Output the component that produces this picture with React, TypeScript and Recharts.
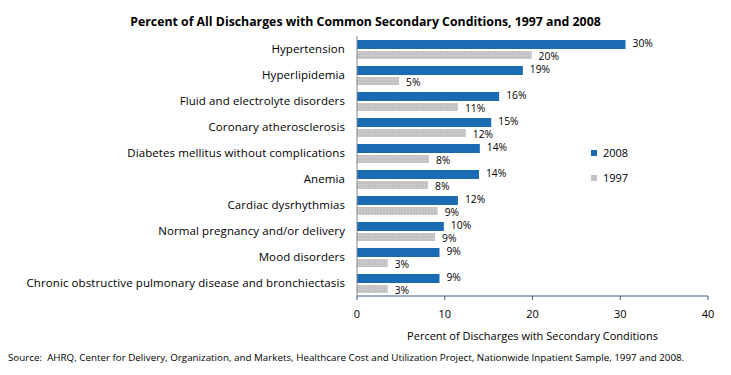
import React from "react";
import {
  BarChart,
  Bar,
  XAxis,
  YAxis,
  LabelList,
  Legend,
} from "recharts";

const conditions = [
  "Hypertension",
  "Hyperlipidemia",
  "Fluid and electrolyte disorders",
  "Coronary atherosclerosis",
  "Diabetes mellitus without complications",
  "Anemia",
  "Cardiac dysrhythmias",
  "Normal pregnancy and/or delivery",
  "Mood disorders",
  "Chronic obstructive pulmonary disease and bronchiectasis",
];
const values2008 = [30.6, 18.9, 16.2, 15.3, 14.0, 13.9, 11.5, 9.9, 9.4, 9.4];
const values1997 = [19.9, 4.8, 11.5, 12.4, 8.2, 8.1, 9.2, 8.9, 3.5, 3.5];
const labels2008 = ["30%", "19%", "16%", "15%", "14%", "14%", "12%", "10%", "9%", "9%"];
const labels1997 = ["20%", "5%", "11%", "12%", "8%", "8%", "9%", "9%", "3%", "3%"];
const xTicks = [0, 10, 20, 30, 40];

const BLUE = "#1B6AB4";
const GREY = "#C3C3C3";
const FONT = "'Open Sans', 'Noto Sans', sans-serif";

const data = conditions.map((name, i) => ({
  name,
  y2008: values2008[i],
  y1997: values1997[i],
  l2008: labels2008[i],
  l1997: labels1997[i],
}));

// plain single-line tick, recharts would wrap the long one
const CategoryTick = (props: any) => {
  const { x, y, payload } = props;
  return (
    <text x={x} y={y} dy={4} textAnchor="end" fontFamily={FONT} fontSize={11.5} fill="#000" letterSpacing={0.1}>
      {payload.value}
    </text>
  );
};

// value label at the bar end, nudged up/down a bit like the original
const makeValueLabel = (shift: number) => (props: any) => {
  const { x, y, width, height, value } = props;
  return (
    <text
      x={x + width + 7}
      y={y + height / 2 + shift}
      dy={3.5}
      fontFamily={FONT}
      fontSize={10.3}
      fill="#000"
    >
      {value}
    </text>
  );
};

const LegendBox = () => (
  <div style={{ fontFamily: FONT, fontSize: 11, color: "#000" }}>
    {[
      { label: "2008", fill: BLUE },
      { label: "1997", fill: GREY },
    ].map((d) => (
      <div key={d.label} style={{ display: "flex", alignItems: "center", height: 25 }}>
        <span style={{ width: 6, height: 6, background: d.fill, marginRight: 6 }} />
        {d.label}
      </div>
    ))}
  </div>
);

const App = () => {
  return (
    <div style={{ position: "absolute", top: 0, left: 0, width: 731, height: 375, background: "#fff" }}>
      <div
        style={{
          position: "absolute",
          top: 13,
          left: 0,
          width: 731,
          textAlign: "center",
          fontFamily: FONT,
          fontWeight: "bold",
          fontSize: 12.3,
          color: "#000",
        }}
      >
        Percent of All Discharges with Common Secondary Conditions, 1997 and 2008
      </div>
      <BarChart
        width={731}
        height={375}
        data={data}
        layout="vertical"
        margin={{ top: 36, right: 23, bottom: 29, left: 0 }}
        barGap={2}
        barCategoryGap={4}
      >
        <defs>
          <pattern id="dots" width="3" height="3" patternUnits="userSpaceOnUse">
            <rect width="3" height="3" fill={GREY} />
            <rect x="1" y="1" width="1" height="1" fill="#D8D8D8" />
          </pattern>
        </defs>
        <XAxis
          type="number"
          domain={[0, 40]}
          ticks={xTicks}
          height={50}
          axisLine={{ stroke: "#3B5F80" }}
          tickLine={{ stroke: "#3B5F80" }}
          tickSize={4}
          tickMargin={10}
          tick={{ fontFamily: FONT, fontSize: 11, fill: "#000" }}
          label={{
            value: "Percent of Discharges with Secondary Conditions",
            position: "insideBottom",
            offset: 6,
            style: { fontFamily: FONT, fontSize: 11, fill: "#000" },
          }}
        />
        <YAxis
          type="category"
          dataKey="name"
          width={357}
          axisLine={{ stroke: "#888" }}
          tickLine={false}
          tickSize={0}
          tickMargin={12}
          tick={<CategoryTick />}
        />
        <Legend
          layout="vertical"
          verticalAlign="middle"
          align="center"
          wrapperStyle={{ left: 591, top: 140, width: 60 }}
          content={() => <LegendBox />}
        />
        <Bar dataKey="y2008" name="2008" fill={BLUE} barSize={9} isAnimationActive={false}>
          <LabelList dataKey="l2008" content={makeValueLabel(-1)} />
        </Bar>
        <Bar dataKey="y1997" name="1997" fill="url(#dots)" barSize={8} isAnimationActive={false}>
          <LabelList dataKey="l1997" content={makeValueLabel(1)} />
        </Bar>
      </BarChart>
      <div
        style={{
          position: "absolute",
          top: 351,
          left: 8,
          fontFamily: FONT,
          fontSize: 9.8,
          color: "#000",
          whiteSpace: "nowrap",
        }}
      >
        Source:&nbsp; AHRQ, Center for Delivery, Organization, and Markets, Healthcare Cost and Utilization Project, Nationwide Inpatient Sample, 1997 and 2008.
      </div>
    </div>
  );
};

export default App;
